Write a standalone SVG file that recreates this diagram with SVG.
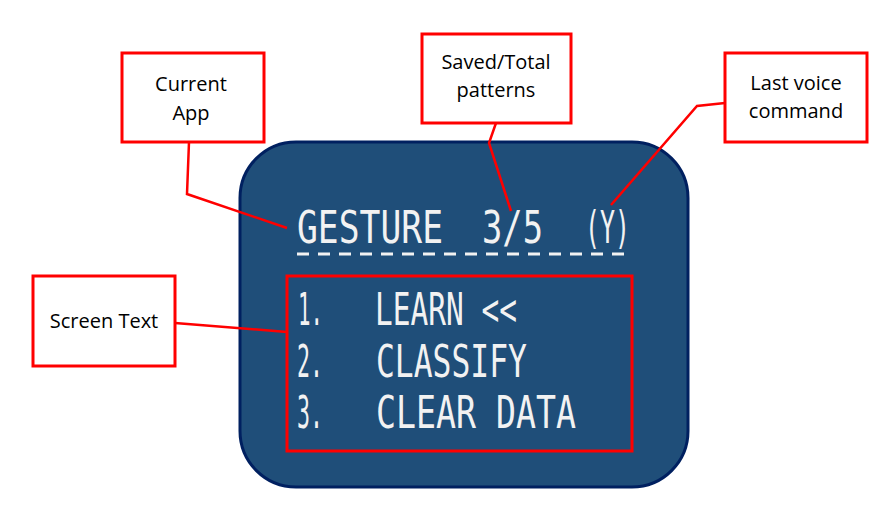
<svg xmlns="http://www.w3.org/2000/svg" width="896" height="517" viewBox="0 0 896 517">
<style>
.lbl{fill:#fff;stroke:#ff0000;stroke-width:3}
.lt{font-family:"Open Sans","Liberation Sans",sans-serif;font-size:20px;fill:#000;text-anchor:middle}
.lcd{font-family:"DejaVu Sans Mono","Liberation Mono",monospace;font-size:45px;fill:#f2f2f2}
.con{fill:none;stroke:#ff0000;stroke-width:2.5}
</style>
<rect width="896" height="517" fill="#fff"/>
<g id="screen">
<rect x="240" y="142" width="448" height="345" rx="56" ry="56" fill="#1f4e79" stroke="#002060" stroke-width="3"/>
<g class="lcd">
<text x="297" y="243" textLength="146" lengthAdjust="spacingAndGlyphs">GESTURE</text>
<text x="482" y="243" textLength="61" lengthAdjust="spacingAndGlyphs">3/5</text>
<text x="585" y="243" textLength="45" lengthAdjust="spacingAndGlyphs">(Y)</text>
</g>
<line x1="297" y1="254" x2="627" y2="254" stroke="#f2f2f2" stroke-width="3" stroke-dasharray="12 9"/>
</g>
<g id="screen-text">
<rect x="287" y="276" width="345" height="175" fill="none" stroke="#ff0000" stroke-width="3"/>
<g class="lcd">
<text x="298" y="325" textLength="25" lengthAdjust="spacingAndGlyphs">1.</text>
<text x="375" y="325" textLength="142" lengthAdjust="spacingAndGlyphs">LEARN &lt;&lt;</text>
<text x="297" y="377" textLength="26" lengthAdjust="spacingAndGlyphs">2.</text>
<text x="376" y="377" textLength="151" lengthAdjust="spacingAndGlyphs">CLASSIFY</text>
<text x="297" y="428" textLength="26" lengthAdjust="spacingAndGlyphs">3.</text>
<text x="376" y="428" textLength="200" lengthAdjust="spacingAndGlyphs">CLEAR DATA</text>
</g>
</g>
<g id="current-app">
<rect class="lbl" x="122" y="53" width="142" height="89"/>
<text class="lt" x="191" y="91">Current</text>
<text class="lt" x="191" y="120">App</text>
</g>
<g id="saved-total">
<rect class="lbl" x="422" y="34" width="149" height="89"/>
<text class="lt" x="496" y="69">Saved/Total</text>
<text class="lt" x="496" y="97">patterns</text>
</g>
<g id="last-voice">
<rect class="lbl" x="725" y="53" width="142" height="89"/>
<text class="lt" x="796" y="90">Last voice</text>
<text class="lt" x="796" y="118">command</text>
</g>
<g id="screen-label">
<rect class="lbl" x="33" y="276" width="142" height="90"/>
<text class="lt" x="104" y="328">Screen Text</text>
</g>
<g id="connectors">
<polyline class="con" points="189,142 187,194 287,228"/>
<polyline class="con" points="496,123 489,143 511,211"/>
<polyline class="con" points="725,103 697,106 611,205"/>
<polyline class="con" points="175,323 287,332"/>
</g>
</svg>
